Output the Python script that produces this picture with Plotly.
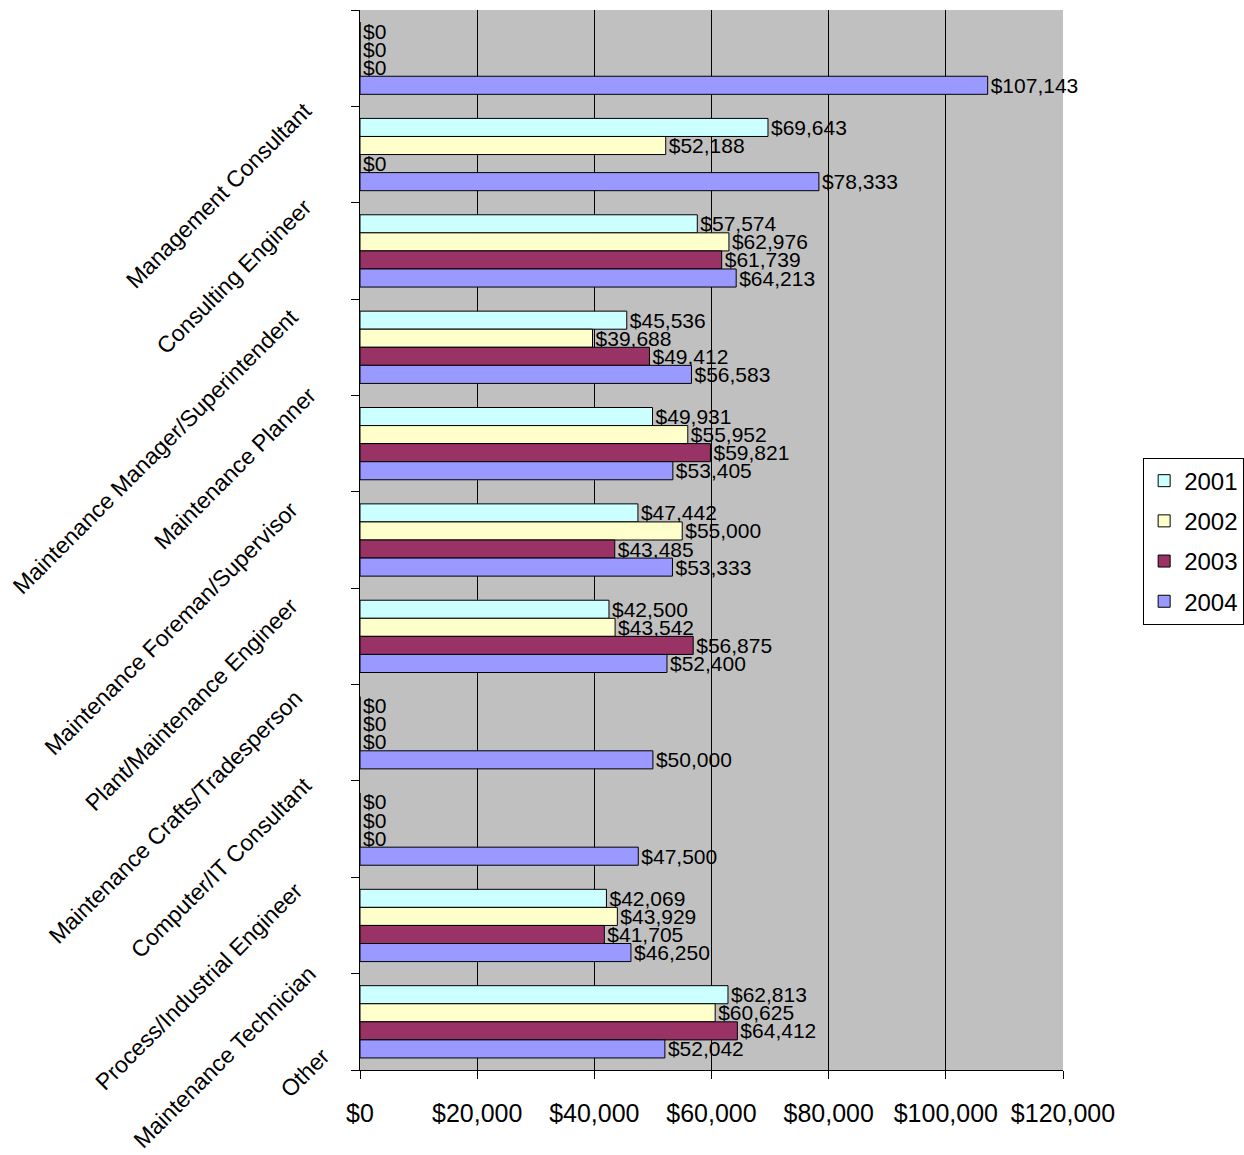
import plotly.graph_objects as go

categories = [
    "Management Consultant",
    "Consulting Engineer",
    "Maintenance Manager/Superintendent",
    "Maintenance Planner",
    "Maintenance Foreman/Supervisor",
    "Plant/Maintenance Engineer",
    "Maintenance Crafts/Tradesperson",
    "Computer/IT Consultant",
    "Process/Industrial Engineer",
    "Maintenance Technician",
    "Other",
]
years = ["2001", "2002", "2003", "2004"]
values_2001 = [0, 69643, 57574, 45536, 49931, 47442, 42500, 0, 0, 42069, 62813]
values_2002 = [0, 52188, 62976, 39688, 55952, 55000, 43542, 0, 0, 43929, 60625]
values_2003 = [0, 0, 61739, 49412, 59821, 43485, 56875, 0, 0, 41705, 64412]
values_2004 = [107143, 78333, 64213, 56583, 53405, 53333, 52400, 50000, 47500, 46250, 52042]
x_ticks = [0, 20000, 40000, 60000, 80000, 100000, 120000]

# trailing-space padding that shifts each rotated label along its own direction
label_pad = [11, 11, 14, 10, 14, 14, 13, 11, 13, 10, 7]

series = [values_2001, values_2002, values_2003, values_2004]
colors = ["#CCFFFF", "#FFFFCC", "#993366", "#9999FF"]
FONT = "Liberation Sans, Arial, sans-serif"

fig = go.Figure()
for name, vals, col in zip(years, series, colors):
    fig.add_trace(go.Bar(
        y=categories, x=vals, name=name, orientation="h",
        marker=dict(color=col, line=dict(color="black", width=1)),
        text=[f"${v:,}" for v in vals], textposition="outside",
        textfont=dict(family=FONT, size=21, color="black"),
        constraintext="none", cliponaxis=False, legendgroup=name,
    ))

fig.update_layout(
    width=1244, height=1155,
    margin=dict(l=360, r=181, t=10, b=85, autoexpand=False),
    paper_bgcolor="white", plot_bgcolor="#C0C0C0",
    barmode="group", bargap=0.25, bargroupgap=0,
    font=dict(family=FONT, color="black"),
    legend=dict(x=1.114, xanchor="left", y=0.499, yanchor="middle",
                bordercolor="black", borderwidth=1, bgcolor="white",
                font=dict(size=24, family=FONT), traceorder="grouped",
                tracegroupgap=6),
    xaxis=dict(range=[0, 120000], tickvals=x_ticks,
               ticktext=[f"${v:,}" for v in x_ticks],
               showgrid=True, gridcolor="black", gridwidth=1,
               ticks="outside", ticklen=8, tickcolor="black",
               showline=True, linecolor="black", linewidth=1,
               tickfont=dict(size=25, family=FONT), ticklabelstandoff=13,
               zeroline=False),
    yaxis=dict(autorange="reversed", tickmode="array", tickvals=categories,
               ticktext=[c + "\u00a0" * p for c, p in zip(categories, label_pad)],
               tickangle=-45, tickson="boundaries",
               ticks="outside", ticklen=8, tickcolor="black",
               showline=True, linecolor="black", linewidth=1,
               showgrid=False, tickfont=dict(size=23, family=FONT)),
)

fig.write_html("out.html")
